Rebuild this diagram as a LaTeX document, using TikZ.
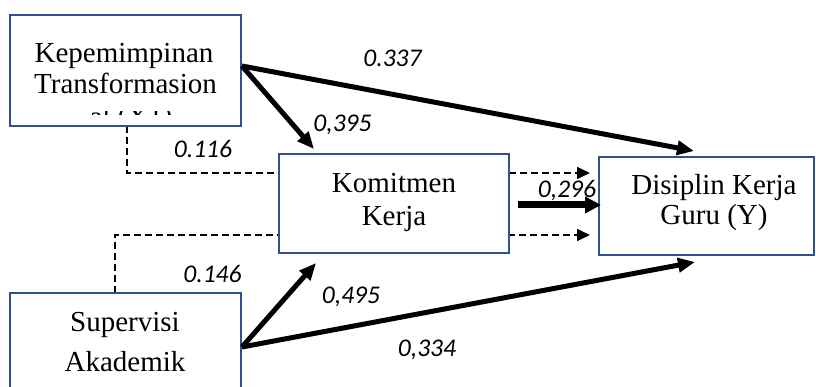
\documentclass[tikz,border=0pt]{standalone}
\usepackage{fontspec}
\setmainfont{Liberation Serif}
\newfontfamily\labelfont{Carlito}
\usetikzlibrary{arrows.meta}

\definecolor{boxblue}{RGB}{47,82,143}

\tikzset{
  box/.style={draw=boxblue, line width=2pt, fill=white, inner sep=0pt},
  boxtext/.style={anchor=base, inner sep=0pt, font=\fontsize{29}{34}\selectfont},
  coef/.style={anchor=base, inner sep=0pt, font=\labelfont\itshape\fontsize{25.5}{30}\selectfont},
  path/.style={line width=5pt, -{Triangle[length=17pt,width=14pt]}},
  mainpath/.style={line width=7pt, -{Triangle[length=16pt,width=16pt]}},
  indirect/.style={line width=1.6pt, dash pattern=on 7pt off 4pt, -{Triangle[length=13pt,width=12pt]}},
}

\begin{document}
\begin{tikzpicture}[x=1pt, y=-1pt]
  \useasboundingbox (0,0) rectangle (816,387);

  % anchor points of the connectors
  \coordinate (b1out)  at (242,66);
  \coordinate (b1down) at (127,126);
  \coordinate (b1bend) at (127,173);
  \coordinate (svout)  at (242,347);
  \coordinate (svup)   at (115,293);
  \coordinate (svbend) at (115,235);
  \coordinate (kmtop)  at (314,149);
  \coordinate (kmbot)  at (316,263);
  \coordinate (dktop)  at (694,151);
  \coordinate (dkbot)  at (695,262);
  \coordinate (dkhi)   at (590,173);
  \coordinate (dklo)   at (590,235);
  \coordinate (kmout)  at (518,205);
  \coordinate (dkmid)  at (601,205);

  % indirect (mediated) paths, drawn behind the boxes
  \draw[indirect] (b1down) -- (b1bend) -- (dkhi);
  \draw[indirect] (svup) -- (svbend) -- (dklo);

  % variables
  \node[box, minimum width=231pt, minimum height=111pt] (b1) at (125.5,70.5) {};
  \node[box, minimum width=230pt, minimum height=99pt]  (km) at (394,203.5) {};
  \node[box, minimum width=215pt, minimum height=98pt]  (dk) at (706.5,206) {};
  \node[box, minimum width=231pt, minimum height=110pt] (sv) at (125.5,348) {};

  % direct paths
  \draw[path] (b1out) -- (dktop);
  \draw[path] (b1out) -- (kmtop);
  \draw[path] (svout) -- (kmbot);
  \draw[path] (svout) -- (dkbot);
  \draw[mainpath] (kmout) -- (dkmid);

  % box texts (the third line of the first box is cut off by its frame)
  \node[boxtext] (t1a) at (124,63) {Kepemimpinan};
  \node[boxtext] (t1b) at (125.5,94) {Transformasion};
  \begin{scope}
    \clip (12,111.5) rectangle (239,115);
    \node[boxtext] (t1c) at (131,127) {al (X1)};
  \end{scope}
  \node[boxtext] (t2a) at (394,193) {Komitmen};
  \node[boxtext] (t2b) at (394,226) {Kerja};
  \node[boxtext] (t3a) at (714,195) {Disiplin Kerja};
  \node[boxtext] (t3b) at (714,225) {Guru (Y)};
  \node[boxtext] (t4a) at (125,331) {Supervisi};
  \node[boxtext] (t4b) at (125,371) {Akademik};

  % path coefficients
  \node[coef] (c1) at (392.5,67)  {0.337};
  \node[coef] (c2) at (342.5,132) {0,395};
  \node[coef] (c3) at (203,158)   {0.116};
  \node[coef] (c4) at (567,198)   {\underline{0,296}};
  \node[coef] (c5) at (212.5,283) {0.146};
  \node[coef] (c6) at (351,303)   {0,495};
  \node[coef] (c7) at (427,356)   {0,334};
\end{tikzpicture}
\end{document}
